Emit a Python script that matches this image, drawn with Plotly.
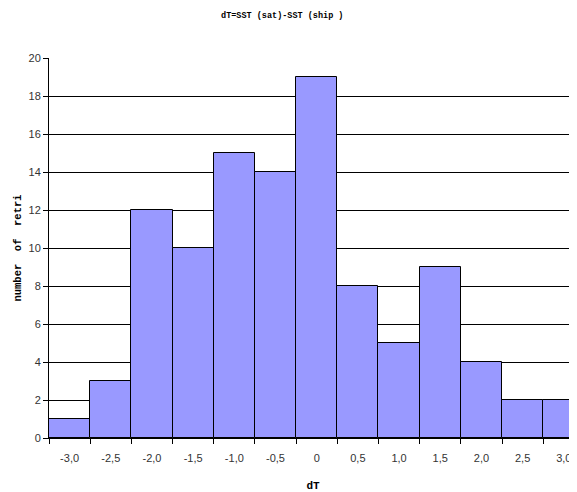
import plotly.graph_objects as go

categories = ["-3,0", "-2,5", "-2,0", "-1,5", "-1,0", "-0,5", "0", "0,5", "1,0", "1,5", "2,0", "2,5", "3,0"]
counts = [1, 3, 12, 10, 15, 14, 19, 8, 5, 9, 4, 2, 2]
y_ticks = list(range(0, 21, 2))

fig = go.Figure(go.Bar(
    x=categories, y=counts,
    marker=dict(color="#9999FF", line=dict(color="black", width=1)),
    width=1.0,
))

fig.update_layout(
    width=569, height=484,
    margin=dict(l=41, r=0, t=50, b=54),
    paper_bgcolor="white", plot_bgcolor="white",
    showlegend=False,
    bargap=0,
    title=dict(text="dT=SST (sat)-SST (ship )", x=0.482, xanchor="center", y=0.985, yanchor="middle",
               font=dict(family="Liberation Mono", size=8.5, color="black", weight="bold")),
    font=dict(family="Liberation Sans", size=11, color="#222222"),
)

fig.update_xaxes(
    type="category", range=[-0.5, 12.32],
    tickson="boundaries", ticks="outside", ticklen=5, tickcolor="black",
    showline=True, linecolor="black", linewidth=1,
    showgrid=False, ticklabelstandoff=10,
    tickfont=dict(size=11, color="#333333"),
    title=dict(text="dT", standoff=20, font=dict(family="Liberation Mono", size=11, color="black", weight="bold")),
)
fig.update_yaxes(
    range=[0, 20], tickvals=y_ticks, ticks="outside", ticklen=5, tickcolor="black",
    showline=True, linecolor="black", linewidth=1,
    showgrid=True, gridcolor="black", gridwidth=1,
    tickfont=dict(size=11, color="#333333"),
    title=dict(text="number  of  retri", standoff=4, font=dict(family="Liberation Mono", size=10.5, color="black", weight="bold")),
)

fig.write_html("out.html")
